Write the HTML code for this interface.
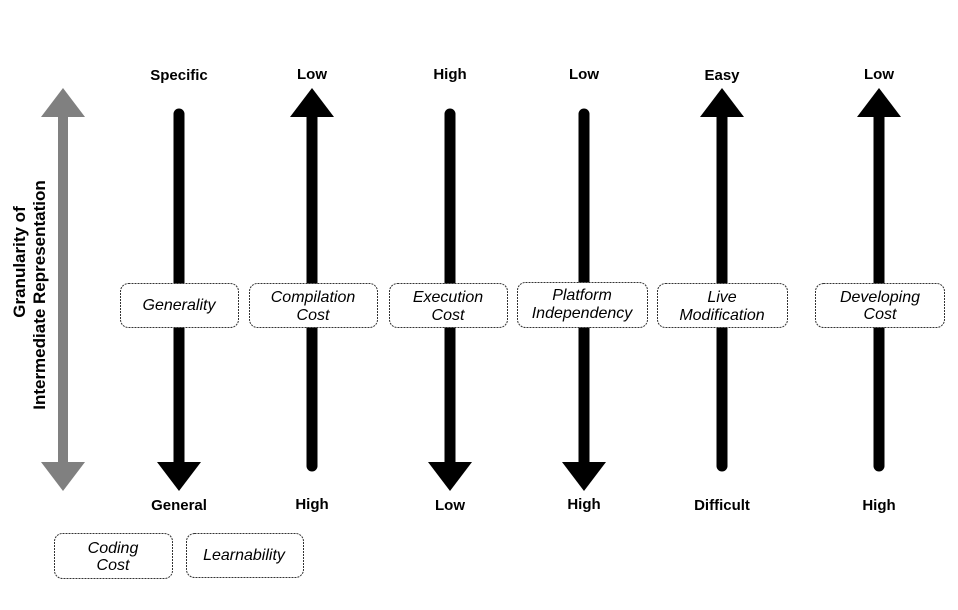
<!DOCTYPE html>
<html><head><style>body{margin:0;background:#fff}svg{display:block}</style></head><body>
<svg width="958" height="610" viewBox="0 0 958 610" xmlns="http://www.w3.org/2000/svg">
<rect width="958" height="610" fill="#fff"/>
<g fill="#808080">
<rect x="58" y="115" width="10" height="349"/>
<polygon points="63,88 85,117 41,117"/>
<polygon points="63,491 85,462 41,462"/>
</g>
<g stroke="#000" stroke-width="11" stroke-linecap="round" fill="none">
<line x1="179" y1="114" x2="179" y2="464"/>
<line x1="312" y1="115" x2="312" y2="466"/>
<line x1="450" y1="114" x2="450" y2="464"/>
<line x1="584" y1="114" x2="584" y2="464"/>
<line x1="722" y1="115" x2="722" y2="466"/>
<line x1="879" y1="115" x2="879" y2="466"/>
</g>
<g fill="#000">
<polygon points="179,491 201,462 157,462"/>
<polygon points="312,88 334,117 290,117"/>
<polygon points="450,491 472,462 428,462"/>
<polygon points="584,491 606,462 562,462"/>
<polygon points="722,88 744,117 700,117"/>
<polygon points="879,88 901,117 857,117"/>
</g>
<g font-family="Liberation Sans Narrow, Liberation Sans, sans-serif" font-weight="bold" font-size="15" text-anchor="middle">
<text x="179" y="80">Specific</text><text x="312" y="79">Low</text><text x="450" y="79">High</text>
<text x="584" y="79">Low</text><text x="722" y="80">Easy</text><text x="879" y="79">Low</text>
<text x="179" y="510">General</text><text x="312" y="509">High</text><text x="450" y="510">Low</text>
<text x="584" y="509">High</text><text x="722" y="510">Difficult</text><text x="879" y="510">High</text>
</g>
<g fill="#fff" stroke="#333" stroke-width="1" stroke-dasharray="2,1">
<rect x="120.5" y="283.5" width="118" height="44" rx="8"/>
<rect x="249.5" y="283.5" width="128" height="44" rx="8"/>
<rect x="389.5" y="283.5" width="118" height="44" rx="8"/>
<rect x="517.5" y="282.5" width="130" height="45" rx="8"/>
<rect x="657.5" y="283.5" width="130" height="44" rx="8"/>
<rect x="815.5" y="283.5" width="129" height="44" rx="8"/>
<rect x="54.5" y="533.5" width="118" height="45" rx="8"/>
<rect x="186.5" y="533.5" width="117" height="44" rx="8"/>
</g>
<g font-family="Liberation Sans, sans-serif" font-style="italic" font-size="16" text-anchor="middle" fill="#000">
<text x="179" y="310">Generality</text>
<text x="313" y="302">Compilation</text><text x="313" y="320">Cost</text>
<text x="448" y="302">Execution</text><text x="448" y="320">Cost</text>
<text x="582" y="300">Platform</text><text x="582" y="318">Independency</text>
<text x="722" y="302">Live</text><text x="722" y="320">Modification</text>
<text x="880" y="302">Developing</text><text x="880" y="319">Cost</text>
<text x="113" y="553">Coding</text><text x="113" y="570">Cost</text>
<text x="244" y="560">Learnability</text>
</g>
<g font-family="Liberation Sans, sans-serif" font-weight="bold" font-size="17" text-anchor="middle">
<text transform="translate(25,262) rotate(-90)">Granularity of</text>
<text transform="translate(45,295) rotate(-90)">Intermediate Representation</text>
</g>
</svg>
</body></html>
